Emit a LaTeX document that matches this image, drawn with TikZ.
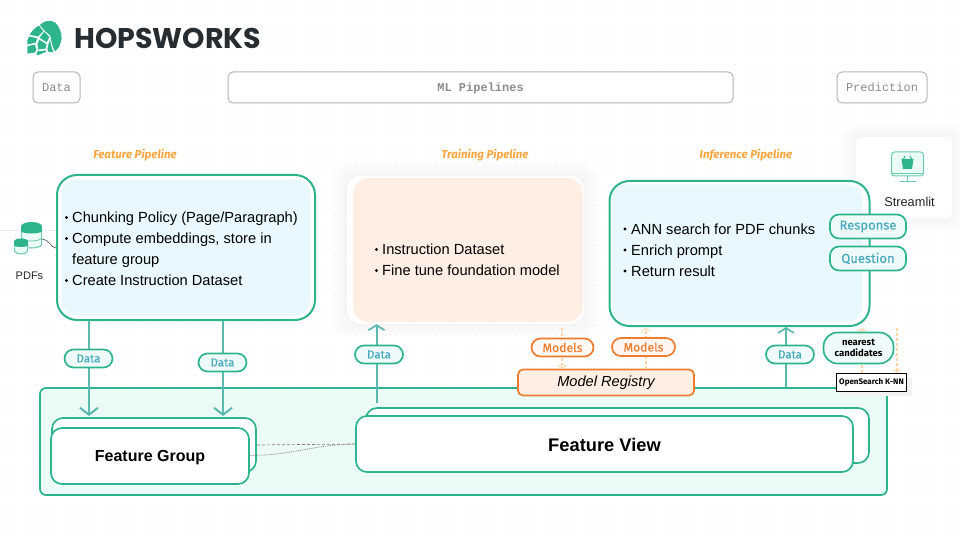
\documentclass[tikz,border=0pt]{standalone}
\usepackage{fontspec}
\setmainfont{Liberation Sans}
\newfontfamily\logofont{Poppins}
\newfontfamily\pillfont[RawFeature={embolden=0.3}]{Fira Sans}
\newfontfamily\titlefont{Fira Sans}
\newfontfamily\monofont{Liberation Mono}
\usetikzlibrary{arrows.meta}
\newcommand{\dropby}[2]{\smash{\raisebox{-#1pt}{#2}}}
\definecolor{hopgreen}{HTML}{2DB48A}
\definecolor{arrowteal}{HTML}{5CB9AE}
\definecolor{pilltext}{HTML}{46A9BE}
\definecolor{pillfill}{HTML}{EFFBF8}
\definecolor{panelblue}{HTML}{E8F8FD}
\definecolor{panelpeach}{HTML}{FFEEE3}
\definecolor{storefill}{HTML}{EBFCF7}
\definecolor{hoporange}{HTML}{EE7B2E}
\definecolor{titleorange}{HTML}{FFA53F}
\definecolor{dashorange}{HTML}{FFD3A6}
\definecolor{headgrey}{HTML}{B5B5B5}
\definecolor{headtext}{HTML}{8C8C8C}
\definecolor{logodark}{HTML}{272C30}
\tikzset{
  x=1pt,y=-1pt,
  headbox/.style={draw=headgrey,line width=1pt,rounded corners=5pt,fill=white,text=headtext,font=\monofont\fontsize{12}{14}\selectfont,inner sep=0pt},
  title/.style={text=titleorange,font=\titlefont\fontsize{11.5}{13}\selectfont\bfseries\itshape,inner sep=0pt},
  bullets/.style={font=\fontsize{14.65}{21}\selectfont,inner sep=0pt,anchor=west,align=left},
  pipebox/.style={draw=hopgreen,line width=2pt,fill=white,rounded corners=18pt,inner sep=0pt},
  innerblue/.style={fill=panelblue,rounded corners=15pt,inner sep=0pt},
  pill/.style={draw=hopgreen,line width=1.7pt,fill=pillfill,rounded corners=9pt,text=pilltext,font=\pillfont\fontsize{11.5}{13}\selectfont,inner sep=0pt},
  modelpill/.style={draw=hoporange,line width=1.7pt,fill=panelpeach!50!white,rounded corners=9pt,text=hoporange,font=\pillfont\fontsize{12.2}{14}\selectfont,inner sep=0pt},
  storebox/.style={draw=hopgreen,line width=1.7pt,fill=white,rounded corners=11pt,inner sep=0pt},
  dataflow/.style={draw=arrowteal,line width=2.2pt,-{Straight Barb[length=7pt,width=18pt,line width=2pt]}},
  dataup/.style={draw=arrowteal,line width=2pt,-{Straight Barb[length=5pt,width=16pt,line width=1.7pt]}},
  modelflow/.style={draw=dashorange,line width=1.2pt,densely dashed,-{Straight Barb[length=2.5pt,width=8pt,line width=.9pt]}},
  softshadow/.style={fill=black,fill opacity=.006,rounded corners=14pt},
  dotrow/.style={draw=black!7,line width=1pt,dash pattern=on 1pt off 9pt},
  hopscale/.style={fill=hopgreen,draw=white,line width=.7pt,line join=round},
}
\begin{document}
\begin{tikzpicture}
\useasboundingbox (0,0) rectangle (960,540);
\fill[white] (0,0) rectangle (960,540);
\foreach \yy in {5,15,...,535} \draw[dotrow] (5,\yy) -- (960,\yy);

% logo
\begin{scope}
\fill[hopscale] (43,22) .. controls (48,19) and (55,20) .. (58,25) .. controls (62,31) and (63,38) .. (61,43) .. controls (60,47) and (58,50) .. (55,52) .. controls (52,48) and (51,42) .. (50,36) -- (44,31) -- (39,25) -- cycle;
\fill[hopscale] (39,25) -- (44,31) -- (38,37) -- (29,35) .. controls (31,31) and (35,27) .. (39,25) -- cycle;
\fill[hopscale] (44,31) -- (50,37) -- (47,43) -- (39,38) -- cycle;
\fill[hopscale] (29,36) -- (38,38) -- (36,43) -- (27,45) .. controls (26,42) and (27,39) .. (29,36) -- cycle;
\fill[hopscale] (39,39) -- (47,44) -- (46,49) -- (38,50) -- (37,44) -- cycle;
\fill[hopscale] (50,38) .. controls (51,43) and (52,48) .. (54,52) .. controls (52,53) and (50,53) .. (48,52) -- (47,49) -- (48,44) -- cycle;
\fill[hopscale] (27,46) -- (35,44) -- (37,50) -- (35,53) -- (27,54) -- cycle;
\fill[hopscale] (37,51) -- (46,50) -- (47,52) -- (37,56) -- (36,54) -- cycle;
\end{scope}
\node[inner sep=0pt,anchor=west,text=logodark,font=\logofont\fontsize{28.5}{30}\selectfont\bfseries] (logo) at (74,38) {HOPSWORKS};

% header
\node[headbox,minimum width=47pt,minimum height=31pt] (hdata) at (56.5,87.5) {\dropby{4.5}{Data}};
\node[headbox,minimum width=505pt,minimum height=31pt,font=\monofont\fontsize{12}{14}\selectfont\bfseries] (hml) at (480.5,87.5) {\dropby{4.5}{ML Pipelines}};
\node[headbox,minimum width=90pt,minimum height=31pt] (hpred) at (882,87.5) {\dropby{4.5}{Prediction}};

% titles
\node[title] (t1) at (135,155) {Feature Pipeline};
\node[title] (t2) at (485,155) {Training Pipeline};
\node[title] (t3) at (746,155) {Inference Pipeline};

% store
\node[draw=hopgreen,line width=1.7pt,fill=storefill,rounded corners=6pt,minimum width=847pt,minimum height=107pt,inner sep=0pt] (store) at (463.5,441.5) {};

% streamlit card
\foreach \gg in {14,11,8,5,2}{\fill[softshadow] (856-\gg,137-\gg) rectangle (952+\gg,218+\gg);}
\node[fill=white,rounded corners=6pt,minimum width=96pt,minimum height=81pt,inner sep=0pt] (card) at (904,177.5) {};
\node[draw=hopgreen!70,line width=1pt,fill=storefill,rounded corners=3pt,minimum width=32pt,minimum height=24pt,inner sep=0pt] (mon) at (907.5,164) {};
\draw[hopgreen!70,line width=.8pt] (mon.south west)++(0,-3.5) -- ++(32,0);
\draw[hopgreen!70,line width=.8pt] (mon.south) -- ++(0,5) coordinate (stand);
\draw[hopgreen!70,line width=.8pt] (stand)++(-8,0) -- ++(16,0);
\fill[hopgreen] (901.5,159) -- (913.5,159) -- (912,169) -- (903,169) -- cycle;
\draw[hopgreen,line width=.9pt] (903.5,159) -- (905,156) (911.5,159) -- (910,156);
\node[font=\fontsize{12.8}{14}\selectfont,text=black!85,inner sep=0pt] (stl) at (909.5,202) {Streamlit};

% pdf icon
\draw[black!8,line width=.6pt] (0,230.5) -- (90,230.5);
\begin{scope}
\fill[white] (21,229) rectangle (42,248);
\draw[hopgreen!70,line width=1pt,fill=storefill] (21.5,231) -- (21.5,245) .. controls (24,249) and (39,249) .. (41.5,245) -- (41.5,231);
\draw[hopgreen!70,line width=.8pt] (21.5,238) .. controls (24,242) and (39,242) .. (41.5,238);
\fill[hopgreen] (31.5,226.5) ellipse [x radius=10.5pt,y radius=4.5pt];
\fill[hopgreen] (21,227) rectangle (42,231);
\fill[hopgreen] (31.5,231) ellipse [x radius=10.5pt,y radius=2.5pt];
\fill[white] (14,241) rectangle (28,252);
\draw[hopgreen!70,line width=1pt,fill=storefill] (14.5,243) -- (14.5,251) .. controls (16,255) and (26,255) .. (27.5,251) -- (27.5,243);
\fill[hopgreen] (21,241.5) ellipse [x radius=7pt,y radius=3pt];
\fill[hopgreen] (14,241.5) rectangle (28,245);
\fill[hopgreen] (21,245) ellipse [x radius=7pt,y radius=2pt];
\draw[storefill,line width=.7pt] (14.5,247.5) .. controls (16,250) and (26,250) .. (27.5,247.5);
\end{scope}
\coordinate (pdfout) at (42,239);
\node[font=\fontsize{11}{13}\selectfont,text=black!85,inner sep=0pt] (pdflabel) at (29.5,276) {PDFs};

% feature pipeline
\node[pipebox,minimum width=258pt,minimum height=145pt,rounded corners=20pt] (fp) at (186,247.5) {};
\node[innerblue,minimum width=249pt,minimum height=136pt] (fpin) at (186,247.5) {};
\draw[black!70,line width=.6pt] (pdfout) .. controls (49,239) and (51,248) .. (fp.west |- 0,248);

\node[bullets] (fpt) at (72,248.5) {Chunking Policy (Page/Paragraph)\\Compute embeddings, store in\\feature group\\Create Instruction Dataset};
\foreach \yy in {217.5,238.5,280.5}{\fill[black] (66.5,\yy) circle (1.6pt);}

% training pipeline
\foreach \gg in {14,11,8,5,2}{\fill[softshadow] (347-\gg,176-\gg) rectangle (584+\gg,324+\gg);}
\node[fill=white,rounded corners=14pt,minimum width=237pt,minimum height=148pt,inner sep=0pt] (tpout) at (465.5,250) {};
\node[fill=panelpeach,rounded corners=16pt,minimum width=230pt,minimum height=144pt,inner sep=0pt] (tp) at (468,250) {};
\node[bullets] (tpt) at (382,260) {Instruction Dataset\\Fine tune foundation model};
\foreach \yy in {249.5,270.5}{\fill[black] (376.5,\yy) circle (1.6pt);}

% inference pipeline
\node[pipebox,minimum width=260pt,minimum height=145pt,rounded corners=20pt] (ip) at (739.5,253.5) {};
\node[innerblue,minimum width=251pt,minimum height=137pt] (ipin) at (737,253) {};
\node[bullets] (ipt) at (631,250) {ANN search for PDF chunks\\Enrich prompt\\Return result};
\foreach \yy in {229,250,271}{\fill[black] (625,\yy) circle (1.6pt);}

% feature stores
\node[storebox,minimum width=204pt,minimum height=54pt] (fgb) at (154,445) {};
\node[storebox,minimum width=198pt,minimum height=56pt,font=\fontsize{16}{18}\selectfont\bfseries] (fg) at (150,456) {\dropby{5.7}{Feature Group}};
\node[storebox,minimum width=503pt,minimum height=55pt] (fvb) at (617.5,435.5) {};
\node[storebox,minimum width=497pt,minimum height=56pt,font=\fontsize{18.3}{20}\selectfont\bfseries] (fv) at (604.5,444) {\dropby{7.5}{Feature View}};
\draw[black!50,line width=.7pt,densely dashed] (fgb.east |- 0,445) -- (fv.west |- 0,444);
\draw[black!50,line width=.8pt,densely dotted] (fg.east |- 0,455.5) .. controls (295,455) and (310,445) .. (fv.west |- 0,444);

% data connectors
\coordinate (c1) at (89,416);
\coordinate (c2) at (223,416);
\draw[dataflow] (fp.south -| c1) -- (c1);
\draw[dataflow] (fp.south -| c2) -- (c2);
\coordinate (c3) at (376.5,403);
\coordinate (c4) at (786,387);
\draw[dataup] (c3) -- (c3 |- tpout.south);
\draw[dataup] (c4) -- (c4 |- ip.south);
\node[pill,minimum width=48pt,minimum height=18pt] (d1) at (88.5,358.5) {Data};
\node[pill,minimum width=48pt,minimum height=18pt] (d2) at (222.5,362.5) {Data};
\node[pill,minimum width=48pt,minimum height=18pt] (d3) at (379,354.5) {Data};
\node[pill,minimum width=48pt,minimum height=18pt] (d4) at (790,354.5) {Data};

% model registry
\node[draw=hoporange,line width=1.7pt,fill=panelpeach,rounded corners=5pt,minimum width=176pt,minimum height=26pt,inner sep=0pt,font=\fontsize{14.6}{16}\selectfont\itshape] (reg) at (606,382.5) {Model Registry};
\coordinate (m1) at (562,328);
\coordinate (m2) at (646,328);
\draw[modelflow] (m1) -- (m1 |- reg.north);
\draw[modelflow] (m2 |- reg.north) -- (m2);
\node[modelpill,minimum width=62pt,minimum height=18pt,fill opacity=0.75,text opacity=1] (mp1) at (562.5,347.5) {Models};
\node[modelpill,minimum width=63pt,minimum height=18pt] (mp2) at (643.5,347) {Models};

% opensearch
\coordinate (n1) at (862,328);
\coordinate (n2) at (897,328);
\fill[black!5] (841,377) rectangle (912,396);
\node[draw=black,line width=1pt,fill=white,minimum width=70pt,minimum height=18pt,inner sep=0pt,font=\titlefont\fontsize{8}{9}\selectfont\bfseries] (os) at (871.5,382) {OpenSearch K-NN};
\draw[modelflow] (n1 |- os.north) -- (n1);
\draw[modelflow] (n2) -- (n2 |- os.north);
\node[draw=hopgreen,line width=1.7pt,fill=pillfill,rounded corners=14pt,minimum width=70pt,minimum height=31pt,inner sep=0pt,align=center,font=\titlefont\fontsize{9.5}{11.5}\selectfont\bfseries] (nc) at (858.5,348) {nearest\\candidates};

% response / question
\node[pill,minimum width=76pt,minimum height=24pt,font=\pillfont\fontsize{13}{15}\selectfont] (resp) at (868,226.5) {Response};
\node[pill,minimum width=76pt,minimum height=24pt,font=\pillfont\fontsize{13}{15}\selectfont] (ques) at (868,258.5) {Question};
\end{tikzpicture}
\end{document}
